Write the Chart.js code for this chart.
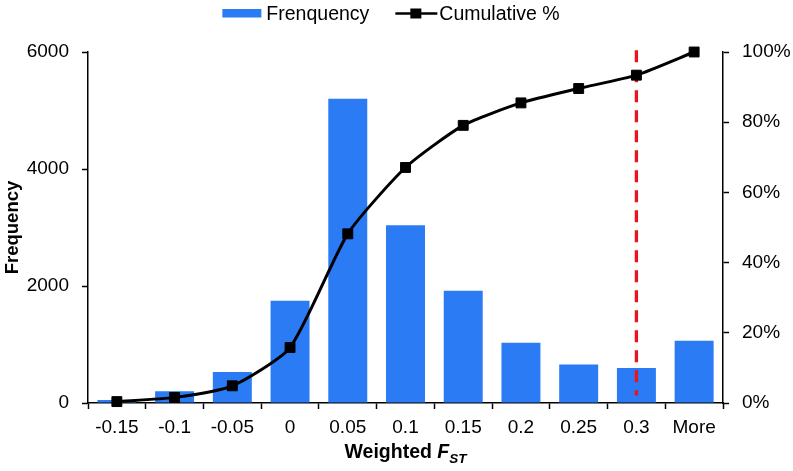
<!DOCTYPE html>
<html>
<head>
<meta charset="utf-8">
<script src="https://cdn.jsdelivr.net/npm/chart.js@4.4.1/dist/chart.umd.min.js"></script>
<style>
  html, body { margin: 0; padding: 0; background: #fff; }
  #wrap { width: 793px; height: 471px; }
</style>
</head>
<body>
<div id="wrap"><canvas id="fstChart" width="793" height="471"></canvas></div>
<script>
// data
const categories = ['-0.15', '-0.1', '-0.05', '0', '0.05', '0.1', '0.15', '0.2', '0.25', '0.3', 'More'];
const frequency = [50, 200, 530, 1750, 5200, 3040, 1920, 1030, 660, 600, 1065];
const cumulativePct = [0.4, 1.6, 4.9, 15.8, 48.2, 67.1, 79.1, 85.5, 89.6, 93.4, 100];
const freqTicks = [0, 2000, 4000, 6000];
const pctTicks = [0, 20, 40, 60, 80, 100];
const cutoffCategory = '0.3';

const FONT = 'Arial, "Liberation Sans", sans-serif';
const BLUE = '#2B7BF4';

// red dashed cut-off, drawn after the bars so the line sits above it
const cutoffLine = {
  id: 'cutoffLine',
  afterDatasetDraw(chart, args) {
    if (args.index !== 0) return;
    const x = chart.scales.x.getPixelForValue(categories.indexOf(cutoffCategory));
    const y = chart.scales.y;
    const ctx = chart.ctx;
    ctx.save();
    ctx.strokeStyle = '#E8151F';
    ctx.lineWidth = 3.3;
    ctx.setLineDash([12, 8]);
    ctx.beginPath();
    ctx.moveTo(x, y.getPixelForValue(6030));
    ctx.lineTo(x, y.getPixelForValue(130));
    ctx.stroke();
    ctx.restore();
  }
};

// legend drawn by hand: bar swatch, then line with square marker
const topLegend = {
  id: 'topLegend',
  afterDraw(chart) {
    const ctx = chart.ctx;
    const ds = chart.data.datasets;
    ctx.save();
    ctx.font = '19.5px ' + FONT;
    ctx.fillStyle = '#000';
    ctx.textBaseline = 'alphabetic';
    const t1 = ds[0].label, t2 = ds[1].label;
    const w1 = ctx.measureText(t1).width, w2 = ctx.measureText(t2).width;
    const total = 39 + 5 + w1 + 26 + 42 + 2 + w2;
    let x = 391 - total / 2;
    ctx.fillStyle = ds[0].backgroundColor;
    ctx.fillRect(x, 9, 39, 8.5);
    x += 44;
    ctx.fillStyle = '#000';
    ctx.fillText(t1, x, 19.5);
    x += w1 + 26;
    ctx.strokeStyle = '#000';
    ctx.lineWidth = 2.5;
    ctx.beginPath();
    ctx.moveTo(x, 13.5); ctx.lineTo(x + 42, 13.5);
    ctx.stroke();
    ctx.fillRect(x + 15, 8.5, 11, 10);
    x += 44;
    ctx.fillText(t2, x, 19.5);
    ctx.restore();
  }
};

// x title with italic subscript, canvas titles cannot do this
const xTitle = {
  id: 'xTitle',
  afterDraw(chart) {
    const ctx = chart.ctx;
    const area = chart.chartArea;
    const base = 458;
    ctx.save();
    ctx.fillStyle = '#000';
    ctx.textBaseline = 'alphabetic';
    const f1 = 'bold 19.5px ' + FONT;
    const f2 = 'italic bold 19.5px ' + FONT;
    const f3 = 'italic bold 13.5px ' + FONT;
    ctx.font = f1; const w1 = ctx.measureText('Weighted ').width;
    ctx.font = f2; const w2 = ctx.measureText('F').width;
    ctx.font = f3; const w3 = ctx.measureText('ST').width;
    let x = (area.left + area.right) / 2 - (w1 + w2 + w3) / 2;
    ctx.font = f1; ctx.fillText('Weighted ', x, base); x += w1;
    ctx.font = f2; ctx.fillText('F', x, base); x += w2;
    ctx.font = f3; ctx.fillText('ST', x, base + 5);
    ctx.restore();
  }
};

const axisGrid = {
  drawOnChartArea: false,
  drawTicks: true,
  tickLength: 6,
  tickWidth: 1.5,
  color: '#000'
};
const tickFont = { family: FONT, size: 19 };

new Chart(document.getElementById('fstChart').getContext('2d'), {
  data: {
    labels: categories,
    datasets: [
      {
        type: 'bar',
        label: 'Frenquency',
        data: frequency,
        backgroundColor: BLUE,
        borderWidth: 0,
        barPercentage: 0.9,
        categoryPercentage: 0.75,
        yAxisID: 'y',
        order: 2
      },
      {
        type: 'line',
        label: 'Cumulative %',
        data: cumulativePct,
        borderColor: '#000',
        backgroundColor: '#000',
        borderWidth: 3,
        tension: 0.2,
        pointStyle: 'rect',
        pointRadius: 7,
        pointBorderWidth: 1,
        clip: false,
        yAxisID: 'y1',
        order: 1
      }
    ]
  },
  options: {
    responsive: false,
    animation: false,
    layout: { padding: { top: 52, left: 0, right: 0, bottom: 0 } },
    scales: {
      x: {
        grid: { ...axisGrid, offset: true },
        border: { color: '#000', width: 1.5 },
        ticks: { color: '#000', font: tickFont, padding: 7, maxRotation: 0 },
        afterFit(scale) { scale.height = 68; }
      },
      y: {
        position: 'left',
        min: 0,
        max: 6000,
        afterBuildTicks(scale) { scale.ticks = freqTicks.map(v => ({ value: v })); },
        grid: axisGrid,
        border: { color: '#000', width: 1.5 },
        ticks: { color: '#000', font: tickFont, padding: 13, callback: v => String(v) },
        title: {
          display: true,
          text: 'Frequency',
          color: '#000',
          font: { family: FONT, size: 18.5, weight: 'bold' },
          padding: { top: 2, bottom: 0 }
        },
        afterFit(scale) { scale.width = 88; }
      },
      y1: {
        position: 'right',
        min: 0,
        max: 100,
        afterBuildTicks(scale) { scale.ticks = pctTicks.map(v => ({ value: v })); },
        grid: axisGrid,
        border: { color: '#000', width: 1.5 },
        ticks: {
          color: '#000',
          font: tickFont,
          padding: 13,
          callback: v => v + '%'
        },
        afterFit(scale) { scale.width = 70; }
      }
    },
    plugins: {
      legend: { display: false },
      tooltip: { enabled: false }
    }
  },
  plugins: [cutoffLine, topLegend, xTitle]
});
</script>
</body>
</html>
